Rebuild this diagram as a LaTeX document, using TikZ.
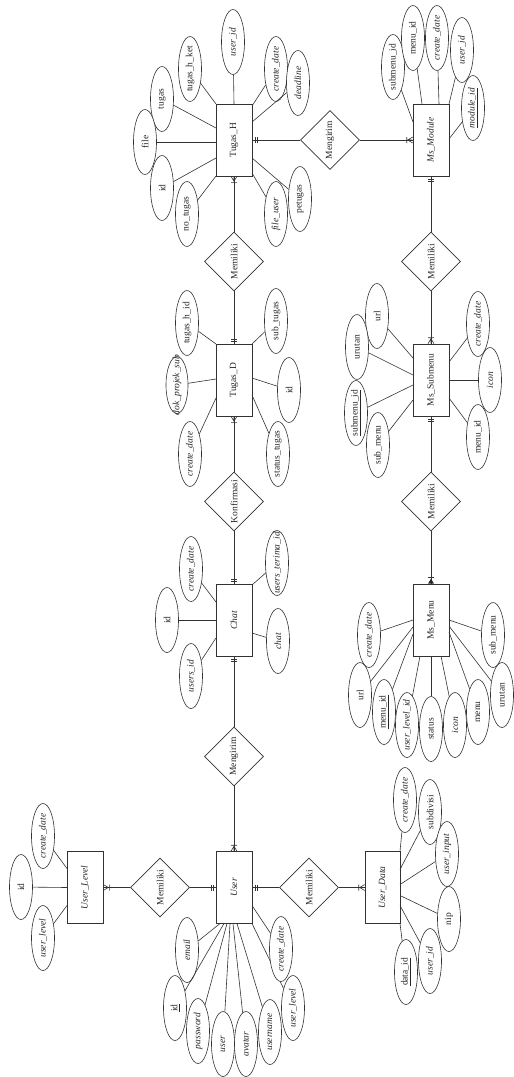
\documentclass[tikz,border=0pt]{standalone}
\usepackage{fontspec}
\setmainfont{Liberation Serif}
\usetikzlibrary{shapes.geometric,calc}
\newcommand{\rt}[1]{\rotatebox{90}{\makebox[0pt]{#1}}}
\newcommand{\mone}[2]{\begin{scope}[shift={#1},rotate=#2]\draw[conn] (2.5,-3)--(2.5,3) (4.5,-3)--(4.5,3);\end{scope}}
\newcommand{\mmany}[2]{\begin{scope}[shift={#1},rotate=#2]\draw[conn] (0,-3)--(5,0)--(0,3) (0,0)--(5,0) (6,-3)--(6,3);\end{scope}}
\newcommand{\mfill}[2]{\begin{scope}[shift={#1},rotate=#2]\fill[black!85] (0,-3)--(5,0)--(0,3)--cycle; \draw[conn] (6,-3)--(6,3);\end{scope}}
\newcommand{\att}[6]{\node[attr] (#1) at (#2,#3) {\rt{#4}}; \draw[conn] (#1) -- ($(#5)+#6$);}
\begin{document}
\begin{tikzpicture}[x=1pt,y=-1pt,
  every node/.style={font=\fontsize{9.5}{11}\selectfont, text=black!85},
  conn/.style={draw=black!80, line width=0.6pt},
  ent/.style={rectangle, draw=black!80, line width=0.6pt, fill=white, minimum width=36pt, minimum height=72pt, inner sep=0pt},
  rel/.style={diamond, draw=black!80, line width=0.6pt, fill=white, minimum width=59pt, minimum height=59pt, inner sep=0pt},
  attr/.style={ellipse, draw=black!80, line width=0.6pt, fill=white, minimum width=23pt, minimum height=65pt, inner sep=0pt}]
\useasboundingbox (0,0) rectangle (514,1077);

% relationship connectors first
\node[ent] (TH) at (234,140) {\rt{Tugas\_H}};
\node[ent] (MM) at (431,140) {\rt{\textit{Ms\_Module}}};
\node[ent] (TD) at (234,380) {\rt{Tugas\_D}};
\node[ent] (MS) at (431,380) {\rt{Ms\_Submenu}};
\node[ent] (CH) at (234,620) {\rt{\textit{Chat}}};
\node[ent] (MN) at (431,620) {\rt{Ms\_Menu}};
\node[ent] (US) at (234,887.5) {\rt{\textit{User}}};
\node[ent] (UL) at (85,887.5) {\rt{\textit{User\_Level}}};
\node[ent, minimum width=35pt] (UD) at (382.5,887.5) {\rt{\textit{User\_Data}}};

\node[rel] (R1) at (234,261.5) {\rt{Memiliki}};
\node[rel] (R2) at (330,140) {\rt{Mengirim}};
\node[rel] (R3) at (431,261.5) {\rt{Memiliki}};
\node[rel] (R4) at (234,501.5) {\rt{Konfirmasi}};
\node[rel] (R5) at (431,501.5) {\rt{Memiliki}};
\node[rel] (R6) at (234,756.5) {\rt{Mengirim}};
\node[rel] (R7) at (160,887.5) {\rt{Memiliki}};
\node[rel] (R8) at (309,887.5) {\rt{Memiliki}};

\draw[conn] (TH) -- (R1) -- (TD);
\draw[conn] (TH) -- (R2) -- (MM);
\draw[conn] (MM) -- (R3) -- (MS);
\draw[conn] (TD) -- (R4) -- (CH);
\draw[conn] (MS) -- (R5) -- (MN);
\draw[conn] (CH) -- (R6) -- (US);
\draw[conn] (UL) -- (R7) -- (US);
\draw[conn] (US) -- (R8) -- (UD);

\mmany{(TH.south)}{-90} \mone{(TD.north)}{90}
\mone{(TH.east)}{0} \mmany{(MM.west)}{180}
\mone{(MM.south)}{-90} \mmany{(MS.north)}{90}
\mmany{(TD.south)}{-90} \mone{(CH.north)}{90}
\mone{(MS.south)}{-90} \mfill{(MN.north)}{90}
\mone{(CH.south)}{-90} \mmany{(US.north)}{90}
\mmany{(UL.east)}{0} \mone{(US.west)}{180}
\mone{(US.east)}{0} \mmany{(UD.west)}{180}

% Tugas_H attributes
\att{th1}{233}{42}{\textit{user\_id}}{TH}{(0,-36)}
\att{th2}{190}{69}{tugas\_h\_ket}{TH}{(-18,-36)}
\att{th3}{162}{99}{tugas}{TH}{(-18,-12)}
\att{th4}{145}{142}{file}{TH}{(-18,2)}
\att{th5}{162}{188}{id}{TH}{(-18,18)}
\att{th6}{187}{214}{no\_tugas}{TH}{(-18,36)}
\att{th7}{276}{69}{\textit{create\_date}}{TH}{(18,-34)}
\att{th8}{298}{83}{\textit{deadline}}{TH}{(18,-18)}
\att{th9}{300}{199}{petugas}{TH}{(18,18)}
\att{th10}{276}{214}{\textit{file\_user}}{TH}{(18,33)}

% Ms_Module attributes
\att{mm1}{393}{67}{submenu\_id}{MM}{(-18,-18)}
\att{mm2}{413}{38}{menu\_id}{MM}{(-9,-36)}
\att{mm3}{437}{38}{\textit{create\_date}}{MM}{(8,-36)}
\att{mm4}{462}{50}{\textit{user\_id}}{MM}{(18,-36)}
\att{mm5}{473}{108}{\textit{\underline{module\_id}}}{MM}{(18,-1)}

% Tugas_D attributes
\att{td1}{187}{323}{tugas\_h\_id}{TD}{(-18,-36)}
\node[attr, minimum height=57pt, minimum width=22pt] (td2) at (177,385) {\rt{\textit{dok\_projek\_sub}}};
\draw[conn] (td2) -- ($(TD)+(-18,-1)$);
\att{td3}{190}{454}{\textit{create\_date}}{TD}{(-18,18)}
\att{td4}{276}{321}{sub\_tugas}{TD}{(18,-36)}
\att{td5}{289}{390}{id}{TD}{(18,-2)}
\att{td6}{278}{454}{status\_tugas}{TD}{(18,15)}

% Chat attributes
\att{ch1}{191}{569}{\textit{create\_date}}{CH}{(-18,-18)}
\att{ch2}{167}{620}{id}{CH}{(-18,0)}
\att{ch3}{191}{676}{\textit{users\_id}}{CH}{(-18,18)}
\att{ch4}{277}{563}{\textit{users\_terima\_id}}{CH}{(18,-35)}
\att{ch5}{278}{641}{\textit{chat}}{CH}{(18,13)}

% Ms_Submenu attributes
\att{ms1}{377}{316}{url}{MS}{(-18,-22)}
\att{ms2}{357}{347}{urutan}{MS}{(-18,-5)}
\att{ms3}{356}{413}{\underline{submenu\_id}}{MS}{(-18,5)}
\att{ms4}{378}{445}{sub\_menu}{MS}{(-18,20)}
\att{ms5}{478}{324}{\textit{create\_date}}{MS}{(18,-18)}
\att{ms6}{490}{380}{\textit{icon}}{MS}{(18,0)}
\att{ms7}{478}{437}{menu\_id}{MS}{(18,18)}

% Ms_Menu attributes
\att{mn1}{369}{635}{\textit{create\_date}}{MN}{(-18,0)}
\att{mn2}{360}{695}{url}{MN}{(-18,7)}
\att{mn3}{384}{712}{\underline{menu\_id}}{MN}{(-18,14)}
\att{mn4}{407}{725}{\textit{user\_level\_id}}{MN}{(-11,36)}
\att{mn5}{431}{729}{status}{MN}{(0,36)}
\att{mn6}{455}{725}{\textit{icon}}{MN}{(10,36)}
\att{mn7}{478}{712}{menu}{MN}{(18,12)}
\att{mn8}{502}{695}{urutan}{MN}{(18,6)}
\att{mn9}{493}{635}{sub\_menu}{MN}{(18,0)}

% User_Level attributes
\att{ul1}{43}{836}{\textit{create\_date}}{UL}{(-18,-19)}
\att{ul2}{21}{887}{id}{UL}{(-18,0)}
\att{ul3}{43}{938}{\textit{user\_level}}{UL}{(-18,18)}

% User attributes
\att{us1}{187}{950}{\textit{email}}{US}{(-14,36)}
\att{us2}{175}{1008}{\underline{id}}{US}{(-10,36)}
\att{us3}{198}{1031}{\textit{password}}{US}{(-7,36)}
\att{us4}{223}{1044}{\textit{user}}{US}{(-4,36)}
\att{us5}{246}{1044}{\textit{avatar}}{US}{(-1,36)}
\att{us6}{270}{1032}{\textit{username}}{US}{(3,36)}
\att{us7}{293}{1008}{\textit{user\_level}}{US}{(18,36)}
\att{us8}{281}{949}{\textit{create\_date}}{US}{(18,18)}

% User_Data attributes
\att{ud1}{405}{800}{\textit{create\_date}}{UD}{(17.5,-36)}
\att{ud2}{430}{812}{subdivisi}{UD}{(17.5,-18)}
\att{ud3}{447}{854}{\textit{user\_input}}{UD}{(17.5,-3)}
\att{ud4}{449}{919}{nip}{UD}{(17.5,8)}
\att{ud5}{430}{961}{\textit{user\_id}}{UD}{(17.5,18)}
\att{ud6}{406}{972}{\underline{data\_id}}{UD}{(17.5,36)}
\end{tikzpicture}
\end{document}
